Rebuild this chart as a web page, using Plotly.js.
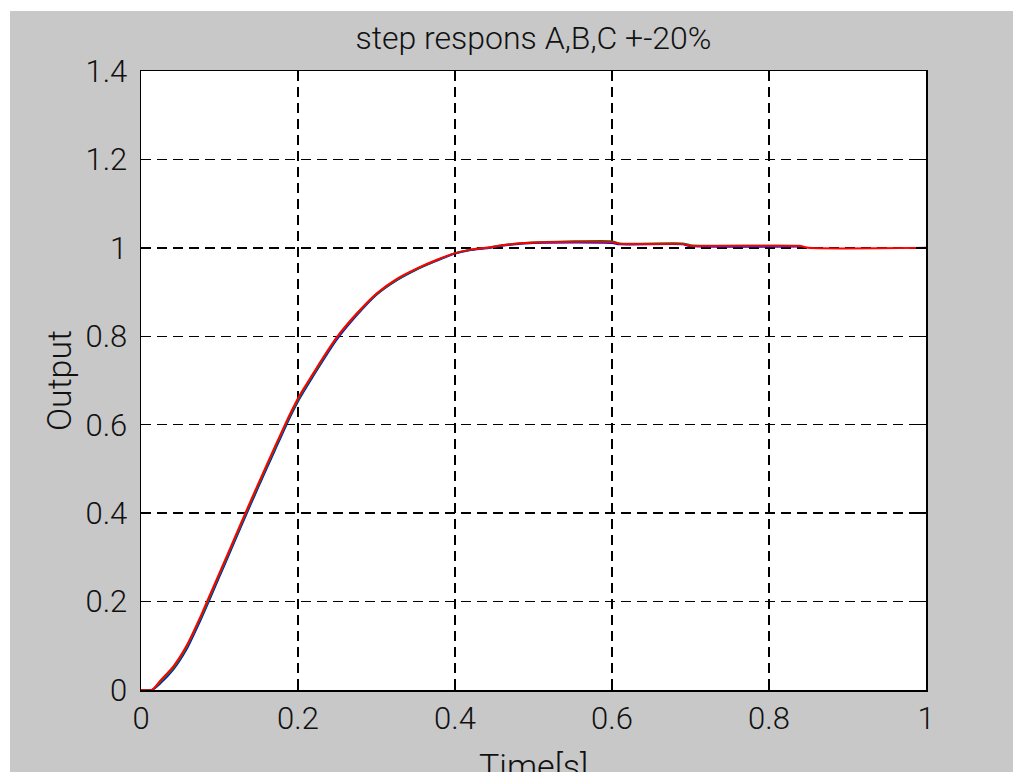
<!DOCTYPE html>
<html>
<head>
<meta charset="utf-8">
<script src="https://cdn.plot.ly/plotly-3.0.1.min.js"></script>
<style>
  html, body { margin: 0; padding: 0; background: #ffffff; }
  #chart { position: absolute; left: 10px; top: 11px; width: 1003px; height: 761px; }
</style>
</head>
<body>
<div id="chart"></div>
<script>
// Simulation time points (s)
const tRise = [0, 0.014, 0.024, 0.041, 0.058, 0.075, 0.084, 0.1, 0.113, 0.126, 0.149, 0.17,
               0.19, 0.2025, 0.22, 0.232, 0.249, 0.275, 0.3, 0.326, 0.351, 0.377, 0.4, 0.42,
               0.44, 0.46, 0.5, 0.6, 0.61, 0.69, 0.70, 0.84];
// Red run continues to the end of the window
const tRed = tRise.concat([0.85, 1.0]);

// Output values
const yBlue  = [0, 0, 0.014, 0.046, 0.092, 0.155, 0.191, 0.257, 0.310, 0.364, 0.457, 0.540,
                0.618, 0.661, 0.712, 0.746, 0.792, 0.848, 0.894, 0.927, 0.951, 0.971, 0.987, 0.995,
                0.999, 1.005, 1.011, 1.011, 1.008, 1.008, 1.004, 1.003];
const yGreen = [0, 0, 0.017, 0.049, 0.096, 0.159, 0.195, 0.261, 0.314, 0.368, 0.461, 0.544,
                0.621, 0.664, 0.715, 0.749, 0.795, 0.850, 0.895, 0.928, 0.952, 0.972, 0.988, 0.996,
                1.000, 1.006, 1.012, 1.015, 1.010, 1.010, 1.006, 1.005];
const yRed   = [0, 0, 0.020, 0.053, 0.100, 0.163, 0.200, 0.265, 0.318, 0.372, 0.465, 0.548,
                0.625, 0.668, 0.718, 0.752, 0.797, 0.852, 0.897, 0.930, 0.953, 0.973, 0.988, 0.996,
                1.000, 1.006, 1.012, 1.013, 1.009, 1.009, 1.005, 1.004, 1.0, 1.0];

const xTicks = [0, 0.2, 0.4, 0.6, 0.8, 1];
const xTickText = ['0', '0.2', '0.4', '0.6', '0.8', '1'];
const yTicks = [0, 0.2, 0.4, 0.6, 0.8, 1, 1.2, 1.4];
const yTickText = ['0', '0.2', '0.4', '0.6', '0.8', '1', '1.2', '1.4'];

const FONT = 'Roboto, "Liberation Sans", Arial, sans-serif';

const traces = [
  {x: tRise, y: yBlue, mode: 'lines', line: {color: '#0000ff', width: 2, shape: 'spline', smoothing: 0.6}, name: 'B'},
  {x: tRise, y: yGreen, mode: 'lines', line: {color: '#008000', width: 2, shape: 'spline', smoothing: 0.6}, name: 'C'},
  {x: tRed, y: yRed, mode: 'lines', line: {color: '#ff0000', width: 2, shape: 'spline', smoothing: 0.6}, name: 'A'}
];

const axisCommon = {
  showline: true, linecolor: '#000000', linewidth: 1.5, mirror: 'ticks',
  ticks: 'inside', ticklen: 10, tickwidth: 1.5, tickcolor: '#000000',
  showgrid: true, gridcolor: '#000000', gridwidth: 1.5, griddash: '10px,6px',
  zeroline: false, tickfont: {family: FONT, size: 31, weight: 300, color: '#111111'},
  automargin: false, fixedrange: true
};

const layout = {
  width: 1003, height: 761,
  paper_bgcolor: '#c8c8c8', plot_bgcolor: '#ffffff',
  margin: {l: 131, r: 87, t: 60, b: 82},
  showlegend: false,
  title: {text: 'step respons A,B,C +-20%', font: {family: FONT, size: 32, weight: 300, color: '#111111'},
          x: 0.5, xanchor: 'center', xref: 'paper', y: 1, yref: 'paper', yanchor: 'bottom', pad: {b: 22}},
  xaxis: Object.assign({}, axisCommon, {
    range: [0, 1], tickvals: xTicks, ticktext: xTickText
  }),
  yaxis: Object.assign({}, axisCommon, {
    range: [0, 1.4], tickvals: yTicks, ticktext: yTickText, ticklabelstandoff: 6,
    title: {text: 'Output', font: {family: FONT, size: 34, weight: 300, color: '#111111'}, standoff: 3}
  }),
  annotations: [{
    text: 'Time[s]', xref: 'paper', yref: 'paper', x: 0.5, y: 0,
    xanchor: 'center', yanchor: 'top', yshift: -54, showarrow: false,
    font: {family: FONT, size: 34, weight: 300, color: '#111111'}
  }]
};

Plotly.newPlot('chart', traces, layout, {displayModeBar: false, staticPlot: true});
</script>
</body>
</html>
